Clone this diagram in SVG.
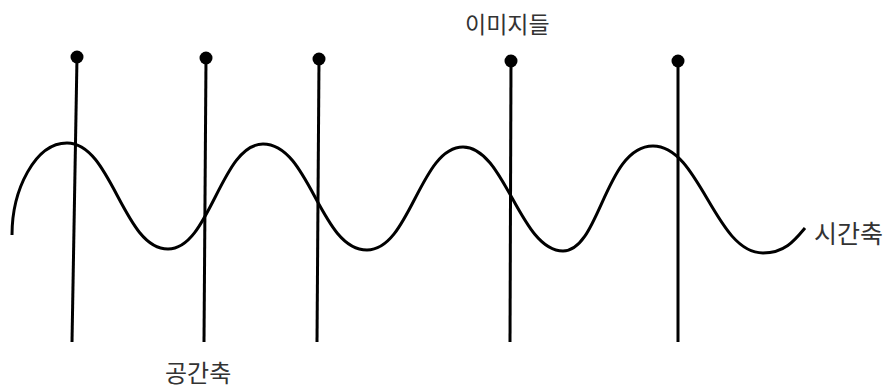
<svg xmlns="http://www.w3.org/2000/svg" width="890" height="391" viewBox="0 0 890 391">
<style>
.ln{stroke:#000;stroke-width:3;fill:none;stroke-linecap:butt}
.dot{fill:#000}
.lbl{font-family:"Noto Sans CJK KR","Noto Sans",sans-serif;font-size:23px;fill:#333}
</style>
<rect width="890" height="391" fill="#fff"/>
<g id="time-axis">
<path class="ln" d="M12,235 C12,190 35,143 67,143 C112,143 123,249 168,249 C210,249 221,144 263,144 C310,144 320,250 367,250 C410,250 420,147 463,147 C505,147 520,251 563,251 C600,251 605,146 653,146 C700,146 715,253 763,253 C785,253 795,240 805,228"/>
</g>
<g id="images">
<g id="image1"><line class="ln" x1="77" y1="57" x2="72" y2="342"/><circle class="dot" cx="77" cy="57" r="6.5"/></g>
<g id="image2"><line class="ln" x1="206" y1="58" x2="204" y2="342"/><circle class="dot" cx="206" cy="58" r="6.5"/></g>
<g id="image3"><line class="ln" x1="319" y1="59" x2="317" y2="342"/><circle class="dot" cx="319" cy="59" r="6.5"/></g>
<g id="image4"><line class="ln" x1="511" y1="61" x2="510" y2="342"/><circle class="dot" cx="511" cy="61" r="6.5"/></g>
<g id="image5"><line class="ln" x1="678" y1="61" x2="678" y2="342"/><circle class="dot" cx="678" cy="61" r="6.5"/></g>
</g>
<g id="labels">
<text class="lbl" x="465" y="33">이미지들</text>
<text class="lbl" x="814" y="243" style="font-size:25px">시간축</text>
<text class="lbl" x="165" y="382" style="font-size:24px">공간축</text>
</g>
</svg>
